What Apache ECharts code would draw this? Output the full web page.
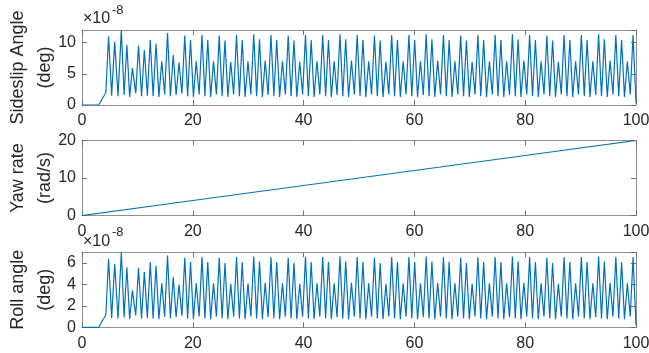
<!DOCTYPE html>
<html>
<head>
<meta charset="utf-8">
<script src="https://cdn.jsdelivr.net/npm/echarts@6/dist/echarts.min.js"></script>
<style>
  html, body { margin: 0; padding: 0; background: #fff; }
  #chart { width: 649px; height: 353px; }
</style>
</head>
<body>
<div id="chart"></div>
<script>
// time axis (s), shared by sideslip and roll traces: peak / trough pairs
const time = [
  0, 3.0, 4.3,
  4.8, 5.35, 5.9, 6.5, 7.1, 7.6, 8.1, 8.6, 9.1, 9.7, 10.2, 10.75,
  11.25, 11.8, 12.32, 12.84, 13.36, 13.88, 14.4, 14.92, 15.44, 15.96,
  16.47, 16.99, 17.51, 18.03, 18.55, 19.07, 19.59, 20.11, 20.62, 21.14,
  21.66, 22.18, 22.70, 23.22, 23.74, 24.26,
  24.77, 25.29, 25.81, 26.33, 26.85, 27.37,
  27.89, 28.41, 28.92, 29.44, 29.96, 30.48,
  31.00, 31.52, 32.04, 32.56, 33.07, 33.59,
  34.11, 34.63, 35.15, 35.67, 36.19, 36.71,
  37.22, 37.74, 38.26, 38.78, 39.30, 39.82,
  40.34, 40.86, 41.37, 41.89, 42.41, 42.93,
  43.45, 43.97, 44.49, 45.01, 45.52, 46.04,
  46.56, 47.08, 47.60, 48.12, 48.64, 49.16,
  49.67, 50.19, 50.71, 51.23, 51.75, 52.27,
  52.79, 53.31, 53.82, 54.34, 54.86, 55.38,
  55.90, 56.42, 56.94, 57.46, 57.97, 58.49,
  59.01, 59.53, 60.05, 60.57, 61.09, 61.61,
  62.12, 62.64, 63.16, 63.68, 64.20, 64.72,
  65.24, 65.76, 66.27, 66.79, 67.31, 67.83,
  68.35, 68.87, 69.39, 69.91, 70.42, 70.94,
  71.46, 71.98, 72.50, 73.02, 73.54, 74.06,
  74.57, 75.09, 75.61, 76.13, 76.65, 77.17,
  77.69, 78.21, 78.72, 79.24, 79.76, 80.28,
  80.80, 81.32, 81.84, 82.36, 82.87, 83.39,
  83.91, 84.43, 84.95, 85.47, 85.99, 86.51,
  87.02, 87.54, 88.06, 88.58, 89.10, 89.62,
  90.14, 90.66, 91.17, 91.69, 92.21, 92.73,
  93.25, 93.77, 94.29, 94.81, 95.32, 95.84,
  96.36, 96.88, 97.40, 97.92, 98.44, 98.96,
  99.47, 100
];

// sideslip angle, x1e-8 deg
const sideslip = [
  0, 0, 1.96,
  11.0, 1.5, 10.1, 1.4, 12.0, 1.6, 9.6, 1.3, 5.9, 1.9, 9.5, 1.4,
  8.8, 1.5, 10.4, 1.4, 9.8, 1.3, 7.0, 1.7, 11.5, 1.4,
  8.0, 1.6, 6.8, 1.8, 11.1, 1.4, 10.4, 1.3, 7.0, 1.7,
  11.2, 1.4, 10.4, 1.3, 7.0, 1.7,
  11.1, 1.4, 10.3, 1.3, 6.9, 1.7,
  11.2, 1.4, 10.4, 1.3, 7.0, 1.7,
  11.3, 1.4, 10.5, 1.3, 7.1, 1.6,
  11.2, 1.4, 10.4, 1.3, 7.0, 1.7,
  11.1, 1.4, 10.3, 1.3, 6.9, 1.7,
  11.2, 1.4, 10.4, 1.3, 7.0, 1.7,
  11.2, 1.4, 10.4, 1.3, 7.0, 1.6,
  11.3, 1.4, 10.5, 1.3, 7.1, 1.7,
  11.2, 1.4, 10.4, 1.3, 7.0, 1.7,
  11.1, 1.4, 10.3, 1.3, 6.9, 1.7,
  11.2, 1.4, 10.4, 1.3, 7.0, 1.7,
  11.2, 1.4, 10.4, 1.3, 7.0, 1.6,
  11.3, 1.4, 10.5, 1.3, 7.1, 1.7,
  11.2, 1.4, 10.4, 1.3, 7.0, 1.7,
  11.1, 1.4, 10.3, 1.3, 6.9, 1.7,
  11.2, 1.4, 10.4, 1.3, 7.0, 1.7,
  11.2, 1.4, 10.4, 1.3, 7.0, 1.6,
  11.3, 1.4, 10.5, 1.3, 7.1, 1.7,
  11.2, 1.4, 10.4, 1.3, 7.0, 1.7,
  11.1, 1.4, 10.3, 1.3, 6.9, 1.7,
  11.2, 1.4, 10.4, 1.3, 7.0, 1.7,
  11.2, 1.4, 10.4, 1.3, 7.0, 1.6,
  11.3, 1.4, 10.5, 1.3, 7.1, 1.7,
  11.2, 1.4, 10.4, 1.3, 7.0, 1.7,
  11.2, 0.3
];

// roll angle, x1e-8 deg
const roll = [
  0, 0, 1.15,
  6.4, 0.88, 5.9, 0.82, 7.0, 0.94, 5.6, 0.76, 3.45, 1.1, 5.55, 0.82,
  5.15, 0.88, 6.1, 0.82, 5.75, 0.76, 4.1, 1.0, 6.7, 0.82,
  4.7, 0.94, 4.0, 1.05, 6.5, 0.82, 6.1, 0.76, 4.1, 1.0,
  6.55, 0.82, 6.1, 0.76, 4.1, 1.0,
  6.5, 0.82, 6.0, 0.76, 4.05, 1.0,
  6.55, 0.82, 6.1, 0.76, 4.1, 1.0,
  6.6, 0.82, 6.15, 0.76, 4.15, 0.94,
  6.55, 0.82, 6.1, 0.76, 4.1, 1.0,
  6.5, 0.82, 6.0, 0.76, 4.05, 1.0,
  6.55, 0.82, 6.1, 0.76, 4.1, 1.0,
  6.55, 0.82, 6.1, 0.76, 4.1, 0.94,
  6.6, 0.82, 6.15, 0.76, 4.15, 1.0,
  6.55, 0.82, 6.1, 0.76, 4.1, 1.0,
  6.5, 0.82, 6.0, 0.76, 4.05, 1.0,
  6.55, 0.82, 6.1, 0.76, 4.1, 1.0,
  6.55, 0.82, 6.1, 0.76, 4.1, 0.94,
  6.6, 0.82, 6.15, 0.76, 4.15, 1.0,
  6.55, 0.82, 6.1, 0.76, 4.1, 1.0,
  6.5, 0.82, 6.0, 0.76, 4.05, 1.0,
  6.55, 0.82, 6.1, 0.76, 4.1, 1.0,
  6.55, 0.82, 6.1, 0.76, 4.1, 0.94,
  6.6, 0.82, 6.15, 0.76, 4.15, 1.0,
  6.55, 0.82, 6.1, 0.76, 4.1, 1.0,
  6.5, 0.82, 6.0, 0.76, 4.05, 1.0,
  6.55, 0.82, 6.1, 0.76, 4.1, 1.0,
  6.55, 0.82, 6.1, 0.76, 4.1, 0.94,
  6.6, 0.82, 6.15, 0.76, 4.15, 1.0,
  6.55, 0.82, 6.1, 0.76, 4.1, 1.0,
  6.55, 0.2
];

// yaw rate, rad/s
const yawTime = [0, 20, 40, 60, 80, 100];
const yawRate = [0, 4, 8, 12, 16, 20];

const xTicks = [0, 20, 40, 60, 80, 100];
const yNames = ["Sideslip Angle\n(deg)", "Yaw rate\n(rad/s)", "Roll angle\n(deg)"];
const yMax = [12, 20, 7];
const yStep = [5, 10, 2];

const font = "Liberation Sans, Arial, Helvetica, sans-serif";
const textColor = "#262626";
const boxColor = "#8f8f8f";
const tops = [30, 140.5, 252.3];

const chart = echarts.init(document.getElementById("chart"));

const grid = tops.map(t => ({
  left: 82, right: 13, top: t, height: 75,
  containLabel: false, outerBoundsMode: "none"
}));

const xAxis = [];
const yAxis = [];
tops.forEach((t, i) => {
  const base = {
    gridIndex: i, type: "value", min: xTicks[0], max: xTicks[xTicks.length - 1], interval: 20,
    axisLine: { show: true, onZero: false, lineStyle: { color: boxColor, width: 1 } },
    axisTick: { show: true, inside: true, length: 5, lineStyle: { color: "#6f6f6f" } },
    splitLine: { show: false }
  };
  xAxis.push(Object.assign({}, base, {
    position: "bottom",
    axisLabel: { margin: 8, color: textColor, fontSize: 16, fontFamily: font }
  }));
  xAxis.push(Object.assign({}, base, { position: "top", axisLabel: { show: false } }));

  const ybase = {
    gridIndex: i, type: "value", min: 0, max: yMax[i], interval: yStep[i],
    axisLine: { show: true, onZero: false, lineStyle: { color: boxColor, width: 1 } },
    axisTick: { show: true, inside: true, length: 5, lineStyle: { color: "#6f6f6f" } },
    splitLine: { show: false }
  };
  yAxis.push(Object.assign({}, ybase, {
    position: "left",
    name: yNames[i], nameLocation: "middle", nameGap: 23, nameRotate: 90,
    nameMoveOverlap: false,
    nameTextStyle: { color: textColor, fontSize: 18, fontFamily: font, lineHeight: 27 },
    axisLabel: {
      margin: 6, color: textColor, fontSize: 16, fontFamily: font,
      showMaxLabel: yMax[i] % yStep[i] === 0
    }
  }));
  yAxis.push(Object.assign({}, ybase, { position: "right", axisLabel: { show: false } }));
});

const lineStyle = { color: "#0072BD", width: 1.2 };
const series = [
  { data: time.map((t, i) => [t, sideslip[i]]), xAxisIndex: 0, yAxisIndex: 0 },
  { data: yawTime.map((t, i) => [t, yawRate[i]]), xAxisIndex: 2, yAxisIndex: 2 },
  { data: time.map((t, i) => [t, roll[i]]), xAxisIndex: 4, yAxisIndex: 4 }
].map(s => Object.assign({ type: "line", showSymbol: false, lineStyle, silent: true }, s));

// MATLAB-style exponent labels above the first and third axes
const expLabel = (top) => [
  { type: "text", left: 83, top: top - 19,
    style: { text: "×10", fill: textColor, font: "16px " + font } },
  { type: "text", left: 112, top: top - 26,
    style: { text: "-8", fill: textColor, font: "13px " + font } }
];

chart.setOption({
  animation: false,
  backgroundColor: "#fff",
  grid, xAxis, yAxis, series,
  graphic: expLabel(tops[0]).concat(expLabel(tops[2]))
});
</script>
</body>
</html>
